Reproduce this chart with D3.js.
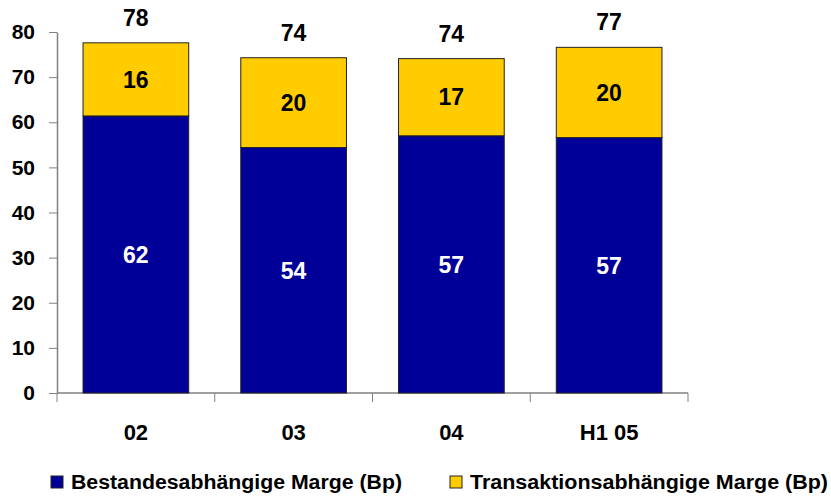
<!DOCTYPE html>
<html>
<head>
<meta charset="utf-8">
<script src="https://cdn.jsdelivr.net/npm/d3@7"></script>
<style>
  body { margin: 0; background: #fff; }
  text { font-family: "Liberation Sans", Arial, sans-serif; font-weight: bold; }
</style>
</head>
<body>
<script>
// chart values
var categories = ["02", "03", "04", "H1 05"];
var bestand = [61.4, 54.4, 57.0, 56.6];
var transaktion = [16.2, 19.9, 17.1, 20.0];
var bestandLabels = ["62", "54", "57", "57"];
var transLabels = ["16", "20", "17", "20"];
var totalLabels = ["78", "74", "74", "77"];
var yTicks = [0, 10, 20, 30, 40, 50, 60, 70, 80];
var seriesNames = ["Bestandesabhängige Marge (Bp)", "Transaktionsabhängige Marge (Bp)"];

var width = 831, height = 497;
var margin = {left: 57, right: 143, top: 32, bottom: 104};

var svg = d3.select("body").append("svg")
    .attr("width", width)
    .attr("height", height);

var x = d3.scaleBand()
    .domain(categories)
    .range([margin.left, width - margin.right])
    .paddingInner(0.33)
    .paddingOuter(0.165);

var y = d3.scaleLinear()
    .domain([0, 80])
    .range([height - margin.bottom, margin.top]);

var colors = ["#000099", "#FFCC00"];

var data = categories.map(function(c, i) {
    return {cat: c, b: bestand[i], t: transaktion[i],
            bl: bestandLabels[i], tl: transLabels[i], total: totalLabels[i]};
});

// y axis
var yAxis = svg.append("g")
    .attr("transform", "translate(" + margin.left + ",0)")
    .call(d3.axisLeft(y).tickValues(yTicks).tickSize(8).tickPadding(14).tickSizeOuter(0));
yAxis.select(".domain").attr("stroke", "#808080").attr("stroke-width", 1.5);
yAxis.selectAll(".tick line").attr("stroke", "#808080");
yAxis.selectAll("text").attr("font-size", 21).attr("fill", "#000");

// x axis, ticks between categories
var xAxisG = svg.append("g")
    .attr("transform", "translate(0," + y(0) + ")");
xAxisG.append("line")
    .attr("x1", margin.left).attr("x2", width - margin.right)
    .attr("stroke", "#808080").attr("stroke-width", 1.5);
var step = x.step();
var bounds = d3.range(categories.length + 1).map(function(i) { return margin.left + i * step; });
xAxisG.selectAll(".xt").data(bounds).enter().append("line")
    .attr("x1", function(d) { return d; }).attr("x2", function(d) { return d; })
    .attr("y1", 0).attr("y2", 9)
    .attr("stroke", "#808080");
xAxisG.selectAll(".xl").data(categories).enter().append("text")
    .attr("x", function(d) { return x(d) + x.bandwidth() / 2; })
    .attr("y", 47)
    .attr("text-anchor", "middle")
    .attr("font-size", 22)
    .text(function(d) { return d; });

// bars
var bars = svg.selectAll(".bar").data(data).enter().append("g");
bars.append("rect")
    .attr("x", function(d) { return x(d.cat); })
    .attr("width", x.bandwidth())
    .attr("y", function(d) { return y(d.b); })
    .attr("height", function(d) { return y(0) - y(d.b); })
    .attr("fill", colors[0])
    .attr("stroke", "#222").attr("stroke-width", 1);
bars.append("rect")
    .attr("x", function(d) { return x(d.cat); })
    .attr("width", x.bandwidth())
    .attr("y", function(d) { return y(d.b + d.t); })
    .attr("height", function(d) { return y(d.b) - y(d.b + d.t); })
    .attr("fill", colors[1])
    .attr("stroke", "#222").attr("stroke-width", 1);

// labels
bars.append("text")
    .attr("x", function(d) { return x(d.cat) + x.bandwidth() / 2; })
    .attr("y", function(d) { return (y(0) + y(d.b)) / 2; })
    .attr("dy", "0.36em")
    .attr("text-anchor", "middle")
    .attr("font-size", 23)
    .attr("fill", "#fff")
    .text(function(d) { return d.bl; });
bars.append("text")
    .attr("x", function(d) { return x(d.cat) + x.bandwidth() / 2; })
    .attr("y", function(d) { return (y(d.b) + y(d.b + d.t)) / 2; })
    .attr("dy", "0.36em")
    .attr("text-anchor", "middle")
    .attr("font-size", 23)
    .attr("fill", "#000")
    .text(function(d) { return d.tl; });
bars.append("text")
    .attr("x", function(d) { return x(d.cat) + x.bandwidth() / 2; })
    .attr("y", function(d) { return y(d.b + d.t) - 17; })
    .attr("text-anchor", "middle")
    .attr("font-size", 23)
    .attr("fill", "#000")
    .text(function(d) { return d.total; });

// legend
var legendX = [51, 450], legendW = [331, 358];
var legend = svg.selectAll(".leg").data(seriesNames).enter().append("g")
    .attr("transform", function(d, i) { return "translate(" + legendX[i] + ",476)"; });
legend.append("rect")
    .attr("width", 12).attr("height", 12)
    .attr("fill", function(d, i) { return colors[i]; })
    .attr("stroke", "#222");
legend.append("text")
    .attr("x", 20)
    .attr("y", 13)
    .attr("font-size", 20)
    .attr("textLength", function(d, i) { return legendW[i]; })
    .attr("lengthAdjust", "spacingAndGlyphs")
    .text(function(d) { return d; });
</script>
</body>
</html>
